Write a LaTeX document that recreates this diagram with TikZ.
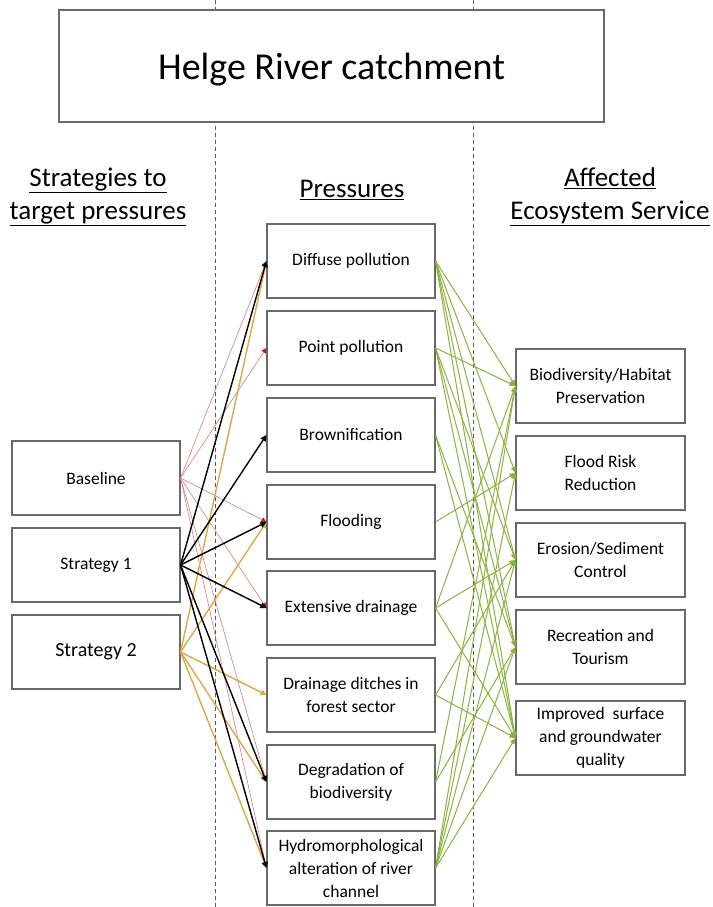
\documentclass[tikz,border=0pt]{standalone}
\usepackage{fontspec}
\setmainfont{Carlito}
\usetikzlibrary{arrows.meta}
\definecolor{boxgray}{RGB}{105,105,105}
\definecolor{dashgray}{RGB}{90,90,90}
\definecolor{redl}{RGB}{214,125,125}
\definecolor{redtip}{RGB}{192,20,20}
\definecolor{orangel}{RGB}{226,166,72}
\definecolor{greenl}{RGB}{140,178,62}
\begin{document}
\begin{tikzpicture}[x=1pt,y=-1pt,
  box/.style={draw=boxgray, line width=1.1pt, fill=white, minimum width=168pt,
    minimum height=74pt, inner sep=2pt, align=center,
    font=\fontsize{17.5}{23}\selectfont},
  hdr/.style={align=center, font=\fontsize{27}{33}\selectfont, inner sep=0pt},
  sepline/.style={draw=dashgray, line width=0.8pt, dash pattern=on 4pt off 3pt},
  redarr/.style={draw=redl, line width=0.6pt,
    -{Triangle[width=5pt,length=5pt,color=redtip,fill=redtip]}},
  blkarr/.style={draw=black, line width=1.4pt,
    -{Triangle[width=6pt,length=6pt]}},
  orarr/.style={draw=orangel, line width=1.4pt,
    -{Triangle[width=6pt,length=6pt]}},
  grarr/.style={draw=greenl, line width=1pt,
    -{Triangle[width=5pt,length=6pt]}}
]
\useasboundingbox (0,0) rectangle (712,907);
% separators
\coordinate (d1t) at (215,0);
\coordinate (d1b) at (215,907);
\coordinate (d2t) at (473,0);
\coordinate (d2b) at (473,907);
\draw[sepline] (d1t) -- (d1b);
\draw[sepline] (d2t) -- (d2b);

% title
\node[draw=boxgray, line width=1.1pt, fill=white, minimum width=545pt, minimum height=112pt,
  text depth=0pt, font=\fontsize{38}{44}\selectfont] (title) at (331.5,66) {Helge River catchment};

% headers
\node[hdr] (h1) at (98,197) {\underline{Strategies to}\\\underline{target pressures}};
\node[hdr] (h2) at (352,190) {\underline{Pressures}};
\node[hdr] (h3) at (610,197) {\underline{Affected}\\\underline{Ecosystem Service}};

% strategies
\node[box] (base) at (96,478) {Baseline};
\node[box] (s1) at (96,565) {Strategy 1};
\node[box, font=\fontsize{20}{24}\selectfont] (s2) at (96,652) {Strategy 2};

% pressures
\node[box] (p1) at (351,261) {Diffuse pollution};
\node[box] (p2) at (351,348) {Point pollution};
\node[box] (p3) at (351,435) {Brownification};
\node[box] (p4) at (351,522) {Flooding};
\node[box] (p5) at (351,608) {Extensive drainage};
\node[box] (p6) at (351,695) {Drainage ditches in\\forest sector};
\node[box] (p7) at (351,782) {Degradation of\\biodiversity};
\node[box] (p8) at (351,868) {Hydromorphological\\alteration of river\\channel};

% services
\node[box, minimum width=169pt] (e1) at (600.5,386) {Biodiversity/Habitat\\Preservation};
\node[box, minimum width=169pt] (e2) at (600.5,473) {Flood Risk\\Reduction};
\node[box, minimum width=169pt] (e3) at (600.5,560) {Erosion/Sediment\\Control};
\node[box, minimum width=169pt] (e4) at (600.5,647) {Recreation and\\Tourism};
\node[box, minimum width=169pt] (e5) at (600.5,738) {Improved~ surface\\and groundwater\\quality};

% baseline (red)
\foreach \t in {p1,p2,p4,p5,p7,p8}
  \draw[redarr] (base.east) -- (\t.west);
% strategy 2 (orange)
\foreach \t in {p1,p4,p6,p7,p8}
  \draw[orarr] (s2.east) -- (\t.west);
% strategy 1 (black)
\foreach \t in {p1,p3,p4,p5,p7,p8}
  \draw[blkarr] (s1.east) -- (\t.west);

% pressures -> services (green)
\foreach \s/\t in {p1/e1,p1/e2,p1/e3,p1/e4,p1/e5,
                   p2/e1,p2/e3,p2/e4,p2/e5,
                   p3/e4,p3/e5,
                   p4/e2,
                   p5/e1,p5/e3,p5/e5,
                   p6/e3,p6/e5,
                   p7/e1,p7/e4,
                   p8/e1,p8/e2,p8/e3,p8/e4,p8/e5}
  \draw[grarr] (\s.east) -- (\t.west);
\end{tikzpicture}
\end{document}
